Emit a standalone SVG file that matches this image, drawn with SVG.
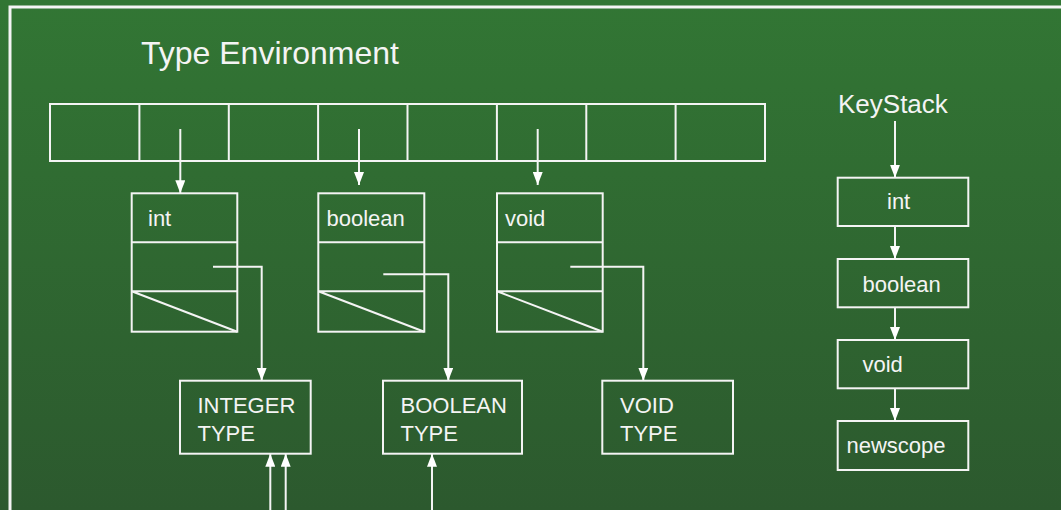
<svg xmlns="http://www.w3.org/2000/svg" width="1061" height="510" viewBox="0 0 1061 510">
<defs>
<linearGradient id="bg" x1="0" y1="0" x2="0" y2="1">
<stop offset="0" stop-color="#327634"/>
<stop offset="1" stop-color="#2c592e"/>
</linearGradient>
<marker id="ah" markerUnits="userSpaceOnUse" markerWidth="13" markerHeight="10" refX="13" refY="5" orient="auto" viewBox="0 0 13 10">
<path d="M0,0 L13,5 L0,10 z" fill="#ffffff"/>
</marker>
</defs>
<style>
.box{fill:none;stroke:#f4f4f4;stroke-width:2}
.ln{fill:none;stroke:#f4f4f4;stroke-width:2}
.ar{fill:none;stroke:#f4f4f4;stroke-width:2;marker-end:url(#ah)}
.t{font-family:"Liberation Sans",Arial,sans-serif;font-size:22px;fill:#f4f4f4}
.title{font-family:"Liberation Sans",Arial,sans-serif;font-size:32px;fill:#f4f4f4}
.ks{font-family:"Liberation Sans",Arial,sans-serif;font-size:26px;fill:#f4f4f4}
</style>
<rect x="0" y="0" width="1061" height="510" fill="url(#bg)"/>
<rect x="10" y="7" width="1100" height="600" fill="none" stroke="#f4f4f4" stroke-width="3"/>
<text class="title" x="141" y="64">Type Environment</text>

<g id="array">
<rect class="box" x="50" y="104" width="715" height="57"/>
<path class="ln" d="M139.4,104V161M228.8,104V161M318.1,104V161M407.5,104V161M496.9,104V161M586.3,104V161M675.6,104V161"/>
</g>

<g id="node-int">
<rect class="box" x="131.7" y="193.3" width="105.6" height="138.4"/>
<path class="ln" d="M131.7,242.3H237.3M131.7,291.3H237.3M131.7,291.3L237.3,331.7"/>
<text class="t" x="148" y="226">int</text>
</g>
<g id="node-boolean">
<rect class="box" x="318.3" y="193.3" width="106" height="138.4"/>
<path class="ln" d="M318.3,242.3H424.3M318.3,291.3H424.3M318.3,291.3L424.3,331.7"/>
<text class="t" x="326.5" y="226">boolean</text>
</g>
<g id="node-void">
<rect class="box" x="497" y="193.3" width="105.7" height="138.4"/>
<path class="ln" d="M497,242.3H602.7M497,291.3H602.7M497,291.3L602.7,331.7"/>
<text class="t" x="505" y="226">void</text>
</g>

<g id="type-integer">
<rect class="box" x="180" y="380.7" width="130.7" height="73"/>
<text class="t" x="197.5" y="412.7">INTEGER</text>
<text class="t" x="197.5" y="440.7">TYPE</text>
</g>
<g id="type-boolean">
<rect class="box" x="383" y="380.7" width="139" height="73"/>
<text class="t" x="400.5" y="412.7">BOOLEAN</text>
<text class="t" x="400.5" y="440.7">TYPE</text>
</g>
<g id="type-void">
<rect class="box" x="602.3" y="380.7" width="130.7" height="73"/>
<text class="t" x="620" y="412.7">VOID</text>
<text class="t" x="620" y="440.7">TYPE</text>
</g>

<text class="ks" x="838" y="113">KeyStack</text>
<g id="ks-int">
<rect class="box" x="837.7" y="177.7" width="130.6" height="48.3"/>
<text class="t" x="887" y="209.3">int</text>
</g>
<g id="ks-boolean">
<rect class="box" x="837.7" y="259" width="130.6" height="48.3"/>
<text class="t" x="862.5" y="291.7">boolean</text>
</g>
<g id="ks-void">
<rect class="box" x="837.7" y="340" width="130.6" height="48.3"/>
<text class="t" x="862.5" y="372.3">void</text>
</g>
<g id="ks-newscope">
<rect class="box" x="837.7" y="421" width="130.6" height="49"/>
<text class="t" x="846.5" y="453.3">newscope</text>
</g>

<g id="connectors">
<path class="ar" d="M180.3,129V193.3"/>
<path class="ar" d="M359,129V185"/>
<path class="ar" d="M537.7,129V185"/>
<path class="ar" d="M213,266.7H261.7V380.7"/>
<path class="ar" d="M383.3,274.3H448.3V380.7"/>
<path class="ar" d="M570.3,266.7H643.3V380.7"/>
<path class="ar" d="M270.3,512V453.7"/>
<path class="ar" d="M285.7,512V453.7"/>
<path class="ar" d="M432,512V453.7"/>
<path class="ar" d="M895,121V177.7"/>
<path class="ar" d="M895,226V259"/>
<path class="ar" d="M895,307.3V340"/>
<path class="ar" d="M895,388.3V421"/>
</g>
</svg>
